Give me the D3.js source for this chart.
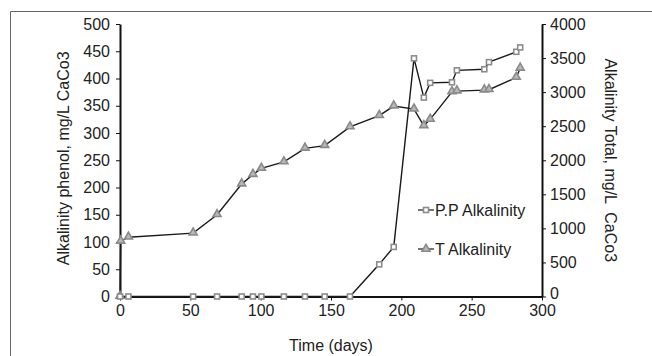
<!DOCTYPE html>
<html>
<head>
<meta charset="utf-8">
<script src="https://cdn.jsdelivr.net/npm/d3@7"></script>
<style>
  body { margin: 0; background: #fff; }
  svg text { font-family: "Liberation Sans", Arial, sans-serif; fill: #222; }
</style>
</head>
<body>
<div id="chart"></div>
<script>
// sampling days (shared), P.P on left axis, T on right axis
const days = [0, 6, 52, 69, 86.5, 94.5, 100.5, 116.5, 131.5, 145.5, 163.5, 184.3, 194.6, 209, 216, 220.5, 236, 239.5, 259, 262.3, 281.7, 284.5];
const ppValues = [0, 0, 0, 0, 0, 0, 0, 0, 0, 0, 0, 59, 91, 437, 365, 392, 393, 415, 417, 430, 449, 457];
const tDays = [0, 0.5, 6, 52, 69, 86.5, 94.5, 100.5, 116.5, 131.5, 145.5, 163.5, 184.3, 194.6, 209, 216, 220.5, 236, 239.5, 259, 262.3, 281.7, 284.5];
const tValues = [0, 810, 870, 930, 1200, 1650, 1790, 1880, 1975, 2175, 2215, 2490, 2655, 2795, 2750, 2505, 2600, 3005, 3015, 3030, 3035, 3215, 3350];
const xTicks = [0, 50, 100, 150, 200, 250, 300];
const leftTicks = [0, 50, 100, 150, 200, 250, 300, 350, 400, 450, 500];
const rightTicks = [0, 500, 1000, 1500, 2000, 2500, 3000, 3500, 4000];
const legendLabels = ['P.P Alkalinity', 'T Alkalinity'];

const width = 652, height = 356;
const margin = { top: 24, right: 110, bottom: 59.5, left: 120 };

const svg = d3.select('#chart').append('svg')
  .attr('width', width)
  .attr('height', height);

// outer frame (top + left edges)
svg.append('path')
  .attr('d', `M10.5,${height} V11.5 H${width}`)
  .attr('fill', 'none')
  .attr('stroke', '#666')
  .attr('stroke-width', 1);

const xScale = d3.scaleLinear().domain([0, 300]).range([margin.left, width - margin.right]);
const yLeft = d3.scaleLinear().domain([0, 500]).range([height - margin.bottom, margin.top]);
const yRight = d3.scaleLinear().domain([0, 4000]).range([height - margin.bottom, margin.top]);

const styleAxis = g => {
  g.select('.domain').attr('stroke', '#111').attr('stroke-width', 2);
  g.selectAll('.tick line').attr('stroke', '#111').attr('stroke-width', 1);
  g.selectAll('.tick text').style('font-size', '16px').attr('fill', '#222');
};

svg.append('g')
  .attr('transform', `translate(0,${yLeft(0)})`)
  .call(d3.axisBottom(xScale).tickValues(xTicks).tickSize(4).tickSizeOuter(0).tickPadding(4))
  .call(styleAxis);

svg.append('g')
  .attr('transform', `translate(${xScale(0)},0)`)
  .call(d3.axisLeft(yLeft).tickValues(leftTicks).tickSize(4).tickSizeOuter(0).tickPadding(6))
  .call(styleAxis);

const rightAxis = svg.append('g')
  .attr('transform', `translate(${xScale(300)},0)`)
  .call(d3.axisRight(yRight).tickValues(rightTicks).tickFormat(d3.format('d')).tickSize(4).tickSizeOuter(0).tickPadding(4))
  .call(styleAxis);
// the "0" label sits a little above its tick so it clears the "300" below
rightAxis.selectAll('.tick text').filter(d => d === 0).attr('dy', '0.1em');

// lines
const ppData = days.map((d, i) => ({ day: d, value: ppValues[i] }));
const tData = tDays.map((d, i) => ({ day: d, value: tValues[i] }));

const linePP = d3.line().x(d => xScale(d.day)).y(d => yLeft(d.value));
const lineT = d3.line().x(d => xScale(d.day)).y(d => yRight(d.value));

svg.append('path')
  .attr('d', lineT(tData))
  .attr('fill', 'none')
  .attr('stroke', '#1a1a1a')
  .attr('stroke-width', 1.4);

svg.append('path')
  .attr('d', linePP(ppData))
  .attr('fill', 'none')
  .attr('stroke', '#1a1a1a')
  .attr('stroke-width', 1.4);

const tri = d3.symbol().type(d3.symbolTriangle).size(28);
const drawTri = (sel) => sel.attr('d', tri)
  .attr('fill', '#b8b8b8')
  .attr('stroke', '#8a8a8a')
  .attr('stroke-width', 1.6);
const drawSq = (sel) => sel.attr('x', -2.5).attr('y', -2.5)
  .attr('width', 5).attr('height', 5)
  .attr('fill', '#fff')
  .attr('stroke', '#8c8c8c')
  .attr('stroke-width', 1.6);

svg.append('g').selectAll('path')
  .data(tData)
  .join('path')
  .attr('transform', d => `translate(${xScale(d.day)},${yRight(d.value) - 0.5})`)
  .call(drawTri);

svg.append('g').selectAll('g')
  .data(ppData)
  .join('g')
  .attr('transform', d => `translate(${xScale(d.day)},${yLeft(d.value)})`)
  .append('rect')
  .call(drawSq);

// legend
const legend = svg.append('g').attr('transform', 'translate(418,210)');
legendLabels.forEach((label, i) => {
  const g = legend.append('g').attr('transform', `translate(0,${i * 39})`);
  g.append('line').attr('x1', 0).attr('x2', 16).attr('stroke', '#1a1a1a').attr('stroke-width', 1.2);
  if (i === 0) g.append('rect').call(drawSq).attr('x', 5.5).attr('y', -2.5).attr('width', 5).attr('height', 5);
  else g.append('path').attr('transform', 'translate(8,0)').call(drawTri);
  g.append('text')
    .attr('x', 17)
    .attr('dy', '0.35em')
    .style('font-size', '16px')
    .text(label);
});

// axis titles
svg.append('text')
  .attr('transform', `translate(69,${(yLeft(0) + yLeft(500)) / 2 - 2}) rotate(-90)`)
  .attr('text-anchor', 'middle')
  .style('font-size', '16px')
  .text('Alkalinity phenol, mg/L CaCo3');

svg.append('text')
  .attr('transform', `translate(605,${(yRight(0) + yRight(4000)) / 2}) rotate(90)`)
  .attr('text-anchor', 'middle')
  .style('font-size', '16px')
  .style('white-space', 'pre')
  .attr('xml:space', 'preserve')
  .text('Alkalinity Total, mg/L  CaCo3');

svg.append('text')
  .attr('x', (xScale(0) + xScale(300)) / 2)
  .attr('y', 351)
  .attr('text-anchor', 'middle')
  .style('font-size', '16px')
  .text('Time (days)');
</script>
</body>
</html>
